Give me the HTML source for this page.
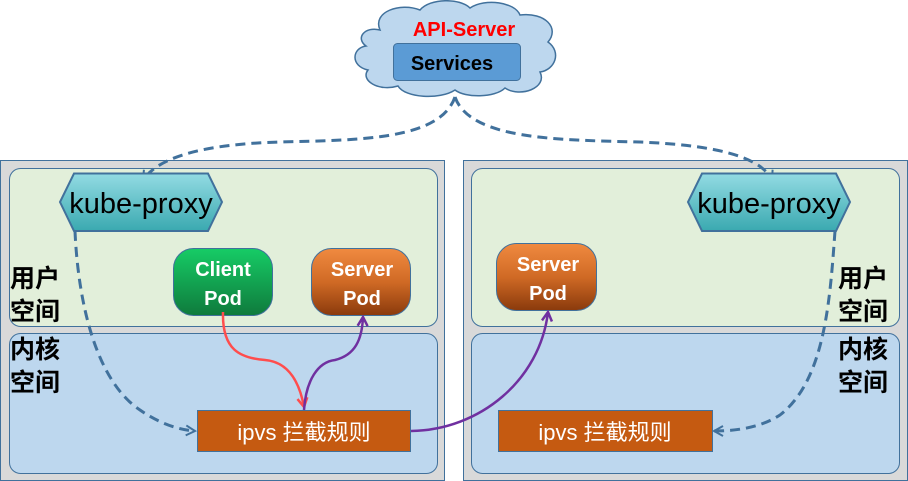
<!DOCTYPE html>
<html><head><meta charset="utf-8"><style>
html,body{margin:0;padding:0;background:#fff;width:908px;height:481px;overflow:hidden}
svg text{font-family:"Liberation Sans","Noto Sans CJK SC",sans-serif}
</style></head><body>
<svg width="908" height="481" viewBox="0 0 908 481" xmlns="http://www.w3.org/2000/svg">
<defs>
<linearGradient id="kp" x1="0" y1="0" x2="0" y2="1"><stop offset="0" stop-color="#93dbe3"/><stop offset="1" stop-color="#3aa9b0"/></linearGradient>
<linearGradient id="cp" x1="0" y1="0" x2="0" y2="1"><stop offset="0" stop-color="#16cc66"/><stop offset="1" stop-color="#0f7a3c"/></linearGradient>
<linearGradient id="sp" x1="0" y1="0" x2="0" y2="1"><stop offset="0" stop-color="#f08a40"/><stop offset="0.5" stop-color="#d06a25"/><stop offset="1" stop-color="#8a3a0c"/></linearGradient>
<marker id="ab" markerWidth="12" markerHeight="12" refX="10" refY="6" orient="auto" markerUnits="userSpaceOnUse"><path d="M1,1 L10,6 L1,11" fill="none" stroke="#41719c" stroke-width="2"/></marker>
<marker id="ar" markerWidth="12" markerHeight="12" refX="10" refY="6" orient="auto" markerUnits="userSpaceOnUse"><path d="M1,1 L10,6 L1,11" fill="none" stroke="#ff4d4d" stroke-width="2.5"/></marker>
<marker id="ap" markerWidth="12" markerHeight="12" refX="10" refY="6" orient="auto" markerUnits="userSpaceOnUse"><path d="M1,1 L10,6 L1,11" fill="none" stroke="#7030a0" stroke-width="2.5"/></marker>
</defs>
<rect x="0.5" y="160.5" width="444" height="320" fill="#d9d9d9" stroke="#41719c"/>
<rect x="9.5" y="168.5" width="428" height="158" rx="11" fill="#e2efda" stroke="#41719c"/>
<rect x="9.5" y="333.5" width="428" height="140" rx="11" fill="#bdd7ee" stroke="#41719c"/>
<rect x="463.5" y="160.5" width="444" height="320" fill="#d9d9d9" stroke="#41719c"/>
<rect x="471.5" y="168.5" width="428" height="158" rx="11" fill="#e2efda" stroke="#41719c"/>
<rect x="471.5" y="333.5" width="428" height="140" rx="11" fill="#bdd7ee" stroke="#41719c"/>
<path d="M380,30 C372,12 400,2 420,10 C430,-2 460,-2 470,8 C485,-2 515,2 520,15 C545,12 560,28 548,42 C562,52 555,70 540,72 C548,88 520,98 505,88 C495,98 465,98 455,90 C440,100 405,98 398,86 C378,92 360,80 368,70 C350,66 352,48 366,46 C355,38 365,26 380,30 Z" fill="#bdd7ee" stroke="#41719c" stroke-width="1.5"/>
<text x="464" y="36" text-anchor="middle" font-size="20" font-weight="bold" fill="#ff0000">API-Server</text>
<rect x="393.5" y="43.5" width="127" height="37" rx="4" fill="#5b9bd5" stroke="#41719c"/>
<text x="452" y="70" text-anchor="middle" font-size="20" font-weight="bold" fill="#000">Services</text>
<path d="M455,97 C440,140 360,140 280,142 C210,144 160,155 143,180" fill="none" stroke="#41719c" stroke-width="3" stroke-dasharray="10,6" marker-end="url(#ab)"/>
<path d="M455,97 C470,140 560,140 640,142 C710,145 760,155 772,180" fill="none" stroke="#41719c" stroke-width="3" stroke-dasharray="10,6" marker-end="url(#ab)"/>
<path d="M75,231 C78,300 95,380 140,410 C160,424 180,430 195,431" fill="none" stroke="#41719c" stroke-width="3" stroke-dasharray="10,6" marker-end="url(#ab)"/>
<path d="M835,231 C830,300 825,380 780,415 C760,428 735,431 714,431" fill="none" stroke="#41719c" stroke-width="3" stroke-dasharray="10,6" marker-end="url(#ab)"/>
<polygon points="74,173.5 208,173.5 222,202 208,231 74,231 60,202" fill="url(#kp)" stroke="#41719c" stroke-width="2"/>
<text x="141" y="213" text-anchor="middle" font-size="29" fill="#000">kube-proxy</text>
<polygon points="702,173.5 836,173.5 850,202 836,231 702,231 688,202" fill="url(#kp)" stroke="#41719c" stroke-width="2"/>
<text x="769" y="213" text-anchor="middle" font-size="29" fill="#000">kube-proxy</text>
<rect x="173.5" y="248.5" width="99" height="67" rx="20" fill="url(#cp)" stroke="#41719c"/>
<text x="223" y="276" text-anchor="middle" font-size="20" font-weight="bold" fill="#fff">Client</text>
<text x="223" y="305" text-anchor="middle" font-size="20" font-weight="bold" fill="#fff">Pod</text>
<rect x="311.5" y="248.5" width="99" height="67" rx="20" fill="url(#sp)" stroke="#41719c"/>
<text x="362" y="276" text-anchor="middle" font-size="20" font-weight="bold" fill="#fff">Server</text>
<text x="362" y="305" text-anchor="middle" font-size="20" font-weight="bold" fill="#fff">Pod</text>
<rect x="496.5" y="243.5" width="100" height="67" rx="20" fill="url(#sp)" stroke="#41719c"/>
<text x="548" y="271" text-anchor="middle" font-size="20" font-weight="bold" fill="#fff">Server</text>
<text x="548" y="300" text-anchor="middle" font-size="20" font-weight="bold" fill="#fff">Pod</text>
<rect x="197.5" y="410.5" width="213" height="41" fill="#c55a11" stroke="#41719c"/>
<text x="304" y="440" text-anchor="middle" font-size="22" fill="#fff">ipvs 拦截规则</text>
<rect x="498.5" y="410.5" width="214" height="41" fill="#c55a11" stroke="#41719c"/>
<text x="605" y="440" text-anchor="middle" font-size="22" fill="#fff">ipvs 拦截规则</text>
<path d="M223,312 C222,350 240,358 265,360 C290,362 300,385 304,407" fill="none" stroke="#ff4d4d" stroke-width="2.5" marker-end="url(#ar)"/>
<path d="M304,410 C306,380 318,362 335,360 C355,355 362,340 363,317" fill="none" stroke="#7030a0" stroke-width="2.5" marker-end="url(#ap)"/>
<path d="M411,431 C480,430 540,380 548,312" fill="none" stroke="#7030a0" stroke-width="2.5" marker-end="url(#ap)"/>
<g font-size="25" font-weight="bold" fill="#000">
<text x="10" y="287">用户</text><text x="10" y="320">空间</text>
<text x="10" y="358">内核</text><text x="10" y="391">空间</text>
<text x="838" y="287">用户</text><text x="838" y="320">空间</text>
<text x="838" y="358">内核</text><text x="838" y="391">空间</text>
</g>
</svg>
</body></html>
